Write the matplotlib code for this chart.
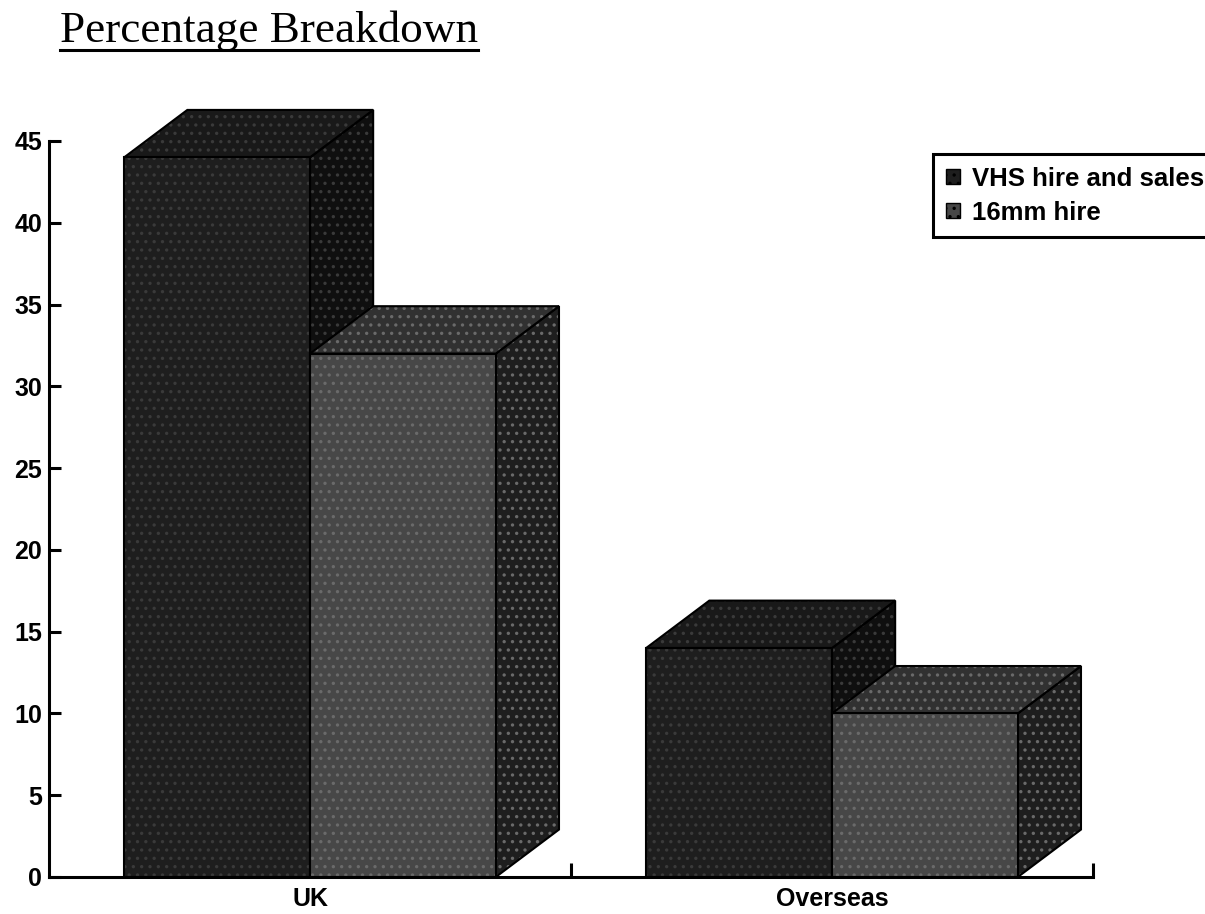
import matplotlib
matplotlib.use("Agg")
import matplotlib.pyplot as plt
from matplotlib.patches import Polygon, Patch
from matplotlib.lines import Line2D

# ---- data -------------------------------------------------------------
categories = ["UK", "Overseas"]
series_names = ["VHS hire and sales", "16mm hire"]
vhs_hire_and_sales = [44, 14]
hire_16mm = [32, 10]
y_ticks = [0, 5, 10, 15, 20, 25, 30, 35, 40, 45]

# ---- styling ----------------------------------------------------------
W, H = 1205, 914
BAR_W = 0.356        # width of each bar's front face (x data units)
DEPTH_X = 0.121      # oblique depth offset along x
DEPTH_Y = 2.9        # oblique depth offset along y
EDGE = "#000000"
LABEL_SIZE = 18

# face colours: (front, top, side), plus a lighter dot colour for texture
faces = [
    dict(front="#1e1e1e", top="#191919", side="#0f0f0f", dots="#3a3a3a"),
    dict(front="#474747", top="#313131", side="#1e1e1e", dots="#6a6a6a"),
]

plt.rcParams["font.family"] = ["Liberation Sans", "DejaVu Sans"]
plt.rcParams["hatch.linewidth"] = 1.2

fig = plt.figure(figsize=(W / 100, H / 100), dpi=100)
ax = fig.add_axes([49 / W, 37 / H, (1093 - 49) / W, (877 - 141) / H])
ax.set_xlim(-0.5, len(categories) - 0.5)
ax.set_ylim(0, 45)


def textured_polygon(ax, pts, face, dots):
    """Fill a polygon with a dotted texture and a black outline."""
    ax.add_patch(Polygon(pts, closed=True, facecolor=face, edgecolor=dots,
                         hatch="..", linewidth=0, clip_on=False, zorder=3))
    ax.add_patch(Polygon(pts, closed=True, facecolor="none", edgecolor=EDGE,
                         linewidth=1.5, clip_on=False, zorder=3))


def draw_box(ax, left, height, style):
    right = left + BAR_W
    front = [(left, 0), (right, 0), (right, height), (left, height)]
    top = [(left, height), (right, height),
           (right + DEPTH_X, height + DEPTH_Y), (left + DEPTH_X, height + DEPTH_Y)]
    side = [(right, 0), (right + DEPTH_X, DEPTH_Y),
            (right + DEPTH_X, height + DEPTH_Y), (right, height)]
    textured_polygon(ax, side, style["side"], style["dots"])
    textured_polygon(ax, top, style["top"], style["dots"])
    textured_polygon(ax, front, style["front"], style["dots"])


series = [vhs_hire_and_sales, hire_16mm]
for i, _ in enumerate(categories):
    for j, values in enumerate(series):
        left = i - BAR_W + j * BAR_W
        draw_box(ax, left, values[i], faces[j])

# ---- axes -------------------------------------------------------------
for s in ("top", "right"):
    ax.spines[s].set_visible(False)
for s in ("left", "bottom"):
    ax.spines[s].set_linewidth(2.2)
    ax.spines[s].set_zorder(4)

ax.set_yticks(y_ticks)
ax.set_yticklabels([str(v) for v in y_ticks])
ax.tick_params(axis="y", direction="in", length=8.5, width=2.2, pad=5,
               labelsize=LABEL_SIZE)
for lab in ax.get_yticklabels():
    lab.set_fontweight("bold")

# category boundaries as upward ticks, category names as minor labels
ax.set_xticks([0.5, 1.5])
ax.set_xticklabels(["", ""])
ax.tick_params(axis="x", which="major", direction="in", length=10, width=2.2)
ax.set_xticks(range(len(categories)), minor=True)
ax.set_xticklabels(categories, minor=True, fontsize=LABEL_SIZE,
                   fontweight="bold")
ax.tick_params(axis="x", which="minor", length=0, pad=7)

# ---- legend -----------------------------------------------------------
handles = [Patch(facecolor=faces[k]["front"], edgecolor=EDGE, linewidth=1.0,
                 hatch="..", label=series_names[k])
           for k in range(len(series_names))]
leg = fig.legend(handles=handles, loc="upper left",
                 bbox_to_anchor=(933 / W, 1 - 154 / H),
                 frameon=True, fancybox=False, framealpha=1,
                 edgecolor="black", handlelength=0.55, handleheight=0.55,
                 handletextpad=0.45, borderpad=0.5, labelspacing=0.38,
                 borderaxespad=0,
                 prop=dict(family="Liberation Sans", weight="bold", size=18.5))
leg.get_frame().set_linewidth(2.2)

# ---- title with underline ---------------------------------------------
title = fig.text(60 / W, 1 - 42 / H, "Percentage Breakdown",
                 family="Liberation Serif", fontsize=32.5, ha="left",
                 va="baseline", color="black")
fig.canvas.draw()
bb = title.get_window_extent()
uy = 1 - 50 / H
fig.add_artist(Line2D([bb.x0 / W, bb.x1 / W], [uy, uy],
                      transform=fig.transFigure, color="black", linewidth=2.2))

fig.savefig("out.png", dpi=100)
